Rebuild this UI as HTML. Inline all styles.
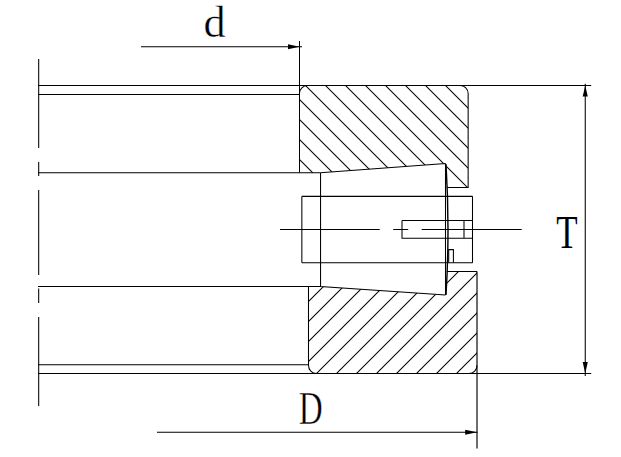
<!DOCTYPE html>
<html><head><meta charset="utf-8">
<style>
html,body{margin:0;padding:0;background:#fff;width:621px;height:457px;overflow:hidden}
svg{display:block}
text{font-family:"Liberation Serif",serif;fill:#000}
</style></head><body>
<svg width="621" height="457" viewBox="0 0 621 457">
<rect width="621" height="457" fill="#fff"/>
<defs>
<clipPath id="ctop"><path d="M299.5 93.5 A8 8 0 0 1 307.5 85.5 L460.15 85.5 A8 8 0 0 1 468.15 93.5 L468 187.5 L447.2 187.5 Q447 170 445.5 163.5 L320.5 172.7 L299.5 172.7 Z"/></clipPath>
<clipPath id="cbot"><path d="M308.5 286.4 L320.5 286.6 L445.5 295.05 Q447.5 283 446.8 271.4 L477 271.4 L477 365.3 A8 8 0 0 1 469 373.5 L316.5 373.5 A8 8 0 0 1 308.5 365.3 Z"/></clipPath>
</defs>
<g stroke="#000" stroke-width="1.05" fill="none">
<path clip-path="url(#ctop)" d="M80.00 60L220.00 200M100.00 60L240.00 200M120.00 60L260.00 200M140.00 60L280.00 200M160.00 60L300.00 200M180.00 60L320.00 200M200.00 60L340.00 200M220.00 60L360.00 200M240.00 60L380.00 200M260.00 60L400.00 200M280.00 60L420.00 200M300.00 60L440.00 200M320.00 60L460.00 200M340.00 60L480.00 200M360.00 60L500.00 200M380.00 60L520.00 200M400.00 60L540.00 200M420.00 60L560.00 200M440.00 60L580.00 200M460.00 60L600.00 200"/>
<path clip-path="url(#cbot)" d="M310.00 260L180.00 390M330.00 260L200.00 390M350.00 260L220.00 390M370.00 260L240.00 390M390.00 260L260.00 390M410.00 260L280.00 390M430.00 260L300.00 390M450.00 260L320.00 390M470.00 260L340.00 390M490.00 260L360.00 390M510.00 260L380.00 390M530.00 260L400.00 390M550.00 260L420.00 390M570.00 260L440.00 390M590.00 260L460.00 390M610.00 260L480.00 390"/>
<path d="M38.7 59 V148 M38.7 162 V176 M38.7 190 V275 M38.7 288.5 V303 M38.7 317 V406"/>
<path d="M38 85.5 H591.2 M38 94.5 H299.5 M38 373.5 H591.2"/>
<path d="M38 172.75 H320.5 M38 286.4 H320.5 M38 364.7 H308.5"/>
<path d="M141 46.75 H302"/>
<path d="M299.5 41 V172.7"/>
<path d="M157 432.25 H477.5"/>
<path d="M477 271.4 V448.6" stroke-width="1.15"/>
<path d="M585.25 83.7 V376"/>
<path d="M299.5 93.5 A8 8 0 0 1 307.5 85.5 M460.15 85.5 A8 8 0 0 1 468.15 93.5 V187.5 H447.2"/>
<path d="M308.5 286.4 V365.3 A8 8 0 0 0 316.5 373.5 M469 373.5 A8 8 0 0 0 477 365.3 M446.8 271.4 H477"/>
<path d="M320.55 172.7 L445.5 163.5 M320.55 172.7 V286.6 L445.5 295.05 M445.5 163.5 V294.9"/>
<path d="M446 164 Q450 229.5 446 295" stroke-width="1.4"/>
<path d="M301.85 196.35 H472.5 M301.85 262.7 H472.5 M301.85 196.35 V262.7 M472.5 196.35 V262.7"/>
<path d="M402 220.5 H472.5 M402 220.5 V238.3 H472.5 M464 220.5 V238.3"/>
<path d="M448.7 262.6 V249.6 H453.4 V262.6"/>
<path d="M280 229.5 H379.7 M393.2 229.5 H408.2 M421.7 229.5 H521.7"/>
</g>
<g fill="#000">
<path d="M288 44.2 L299.5 46.75 L288 49.3 Z"/>
<path d="M465.2 429.7 L477 432.25 L465.2 434.8 Z"/>
<path d="M582.7 96.6 L585.25 85.5 L587.8 96.6 Z"/>
<path d="M582.7 362 L585.25 373.5 L587.8 362 Z"/>
</g>
<g stroke="#fff" stroke-width="0.45" paint-order="fill">
<text x="203.6" y="37" font-size="44.3">d</text>
<text transform="translate(298.8 423.6) scale(0.725 1)" x="0" y="0" font-size="45.8">D</text>
</g>
<text transform="translate(556.3 247.5) scale(0.76 1)" x="0" y="0" font-size="46">T</text>
</svg>
</body></html>
